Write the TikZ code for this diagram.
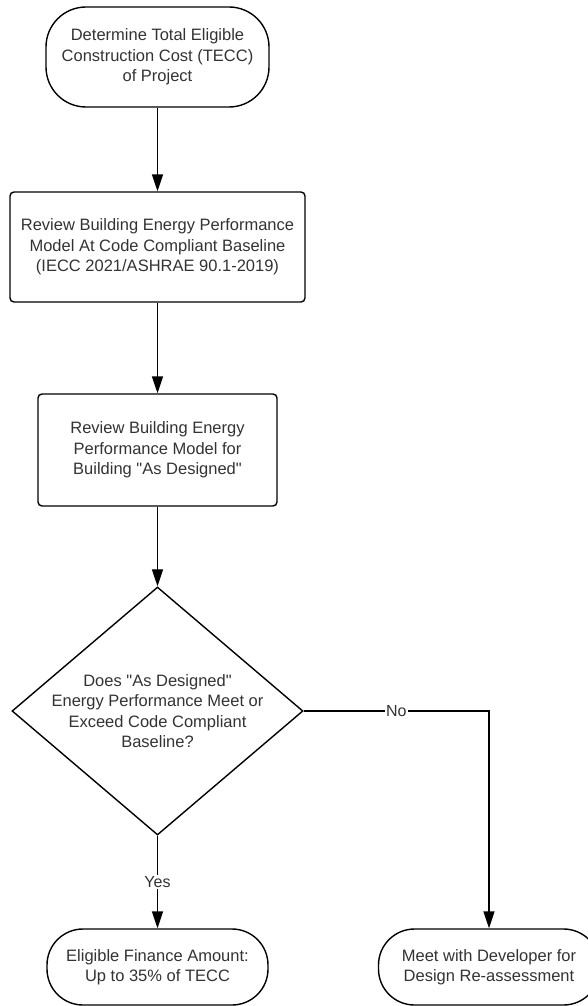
\documentclass[tikz,border=0pt]{standalone}
\usepackage{fontspec}
\setmainfont{Liberation Sans}
\usetikzlibrary{shapes.geometric,arrows.meta}
\definecolor{textgray}{HTML}{333333}
\begin{document}
\begin{tikzpicture}[x=1pt,y=-1pt,
  base/.style={draw=black, line width=1.4pt, text=textgray, font=\fontsize{16.5}{20.5}\selectfont, align=center, inner sep=0pt},
  term/.style={base, rounded corners=40pt, minimum width=223pt, minimum height=100pt},
  termb/.style={base, rounded corners=36pt, minimum width=221pt, minimum height=76pt},
  proc/.style={base, rounded corners=4pt},
  decision/.style={draw=black, line width=1.4pt, diamond, inner sep=0pt, minimum width=291pt, minimum height=248pt},
  txt/.style={text=textgray, font=\fontsize{16.5}{20.5}\selectfont, align=center, inner sep=0pt},
  arr/.style={line width=1.4pt, -{Triangle[length=17pt,width=11pt]}},
  lbl/.style={fill=white, inner sep=1pt, text=textgray, font=\fontsize{16}{18}\selectfont}
]
\useasboundingbox (0,0) rectangle (588,1006);
\node[term] (start) at (157.5,57) {Determine Total Eligible\\Construction Cost (TECC)\\of Project};
\node[proc, minimum width=295pt, minimum height=110pt] (rev1) at (157.5,247) {Review Building Energy Performance\\Model At Code Compliant Baseline\\(IECC 2021/ASHRAE 90.1-2019)};
\node[proc, minimum width=239pt, minimum height=112pt] (rev2) at (157.5,450) {Review Building Energy\\Performance Model for\\Building \textquotedbl As Designed\textquotedbl};
\node[decision] (dec) at (157.5,711) {};
\node[txt] (dectext) at (dec.center) {Does \textquotedbl As Designed\textquotedbl\\Energy Performance Meet or\\Exceed Code Compliant\\Baseline?};
\node[termb] (yesend) at (157.5,967) {Eligible Finance Amount:\\Up to 35\% of TECC};
\node[termb] (noend) at (489,967) {Meet with Developer for\\Design Re-assessment};
\draw[arr] (start) -- (rev1);
\draw[arr] (rev1) -- (rev2);
\draw[arr] (rev2) -- (dec);
\draw[arr] (dec.south) -- node[lbl] {Yes} (yesend.north);
\draw[arr] (dec.east) -- node[lbl] {No} (dec.east -| noend.north) -- (noend.north);
\end{tikzpicture}
\end{document}
